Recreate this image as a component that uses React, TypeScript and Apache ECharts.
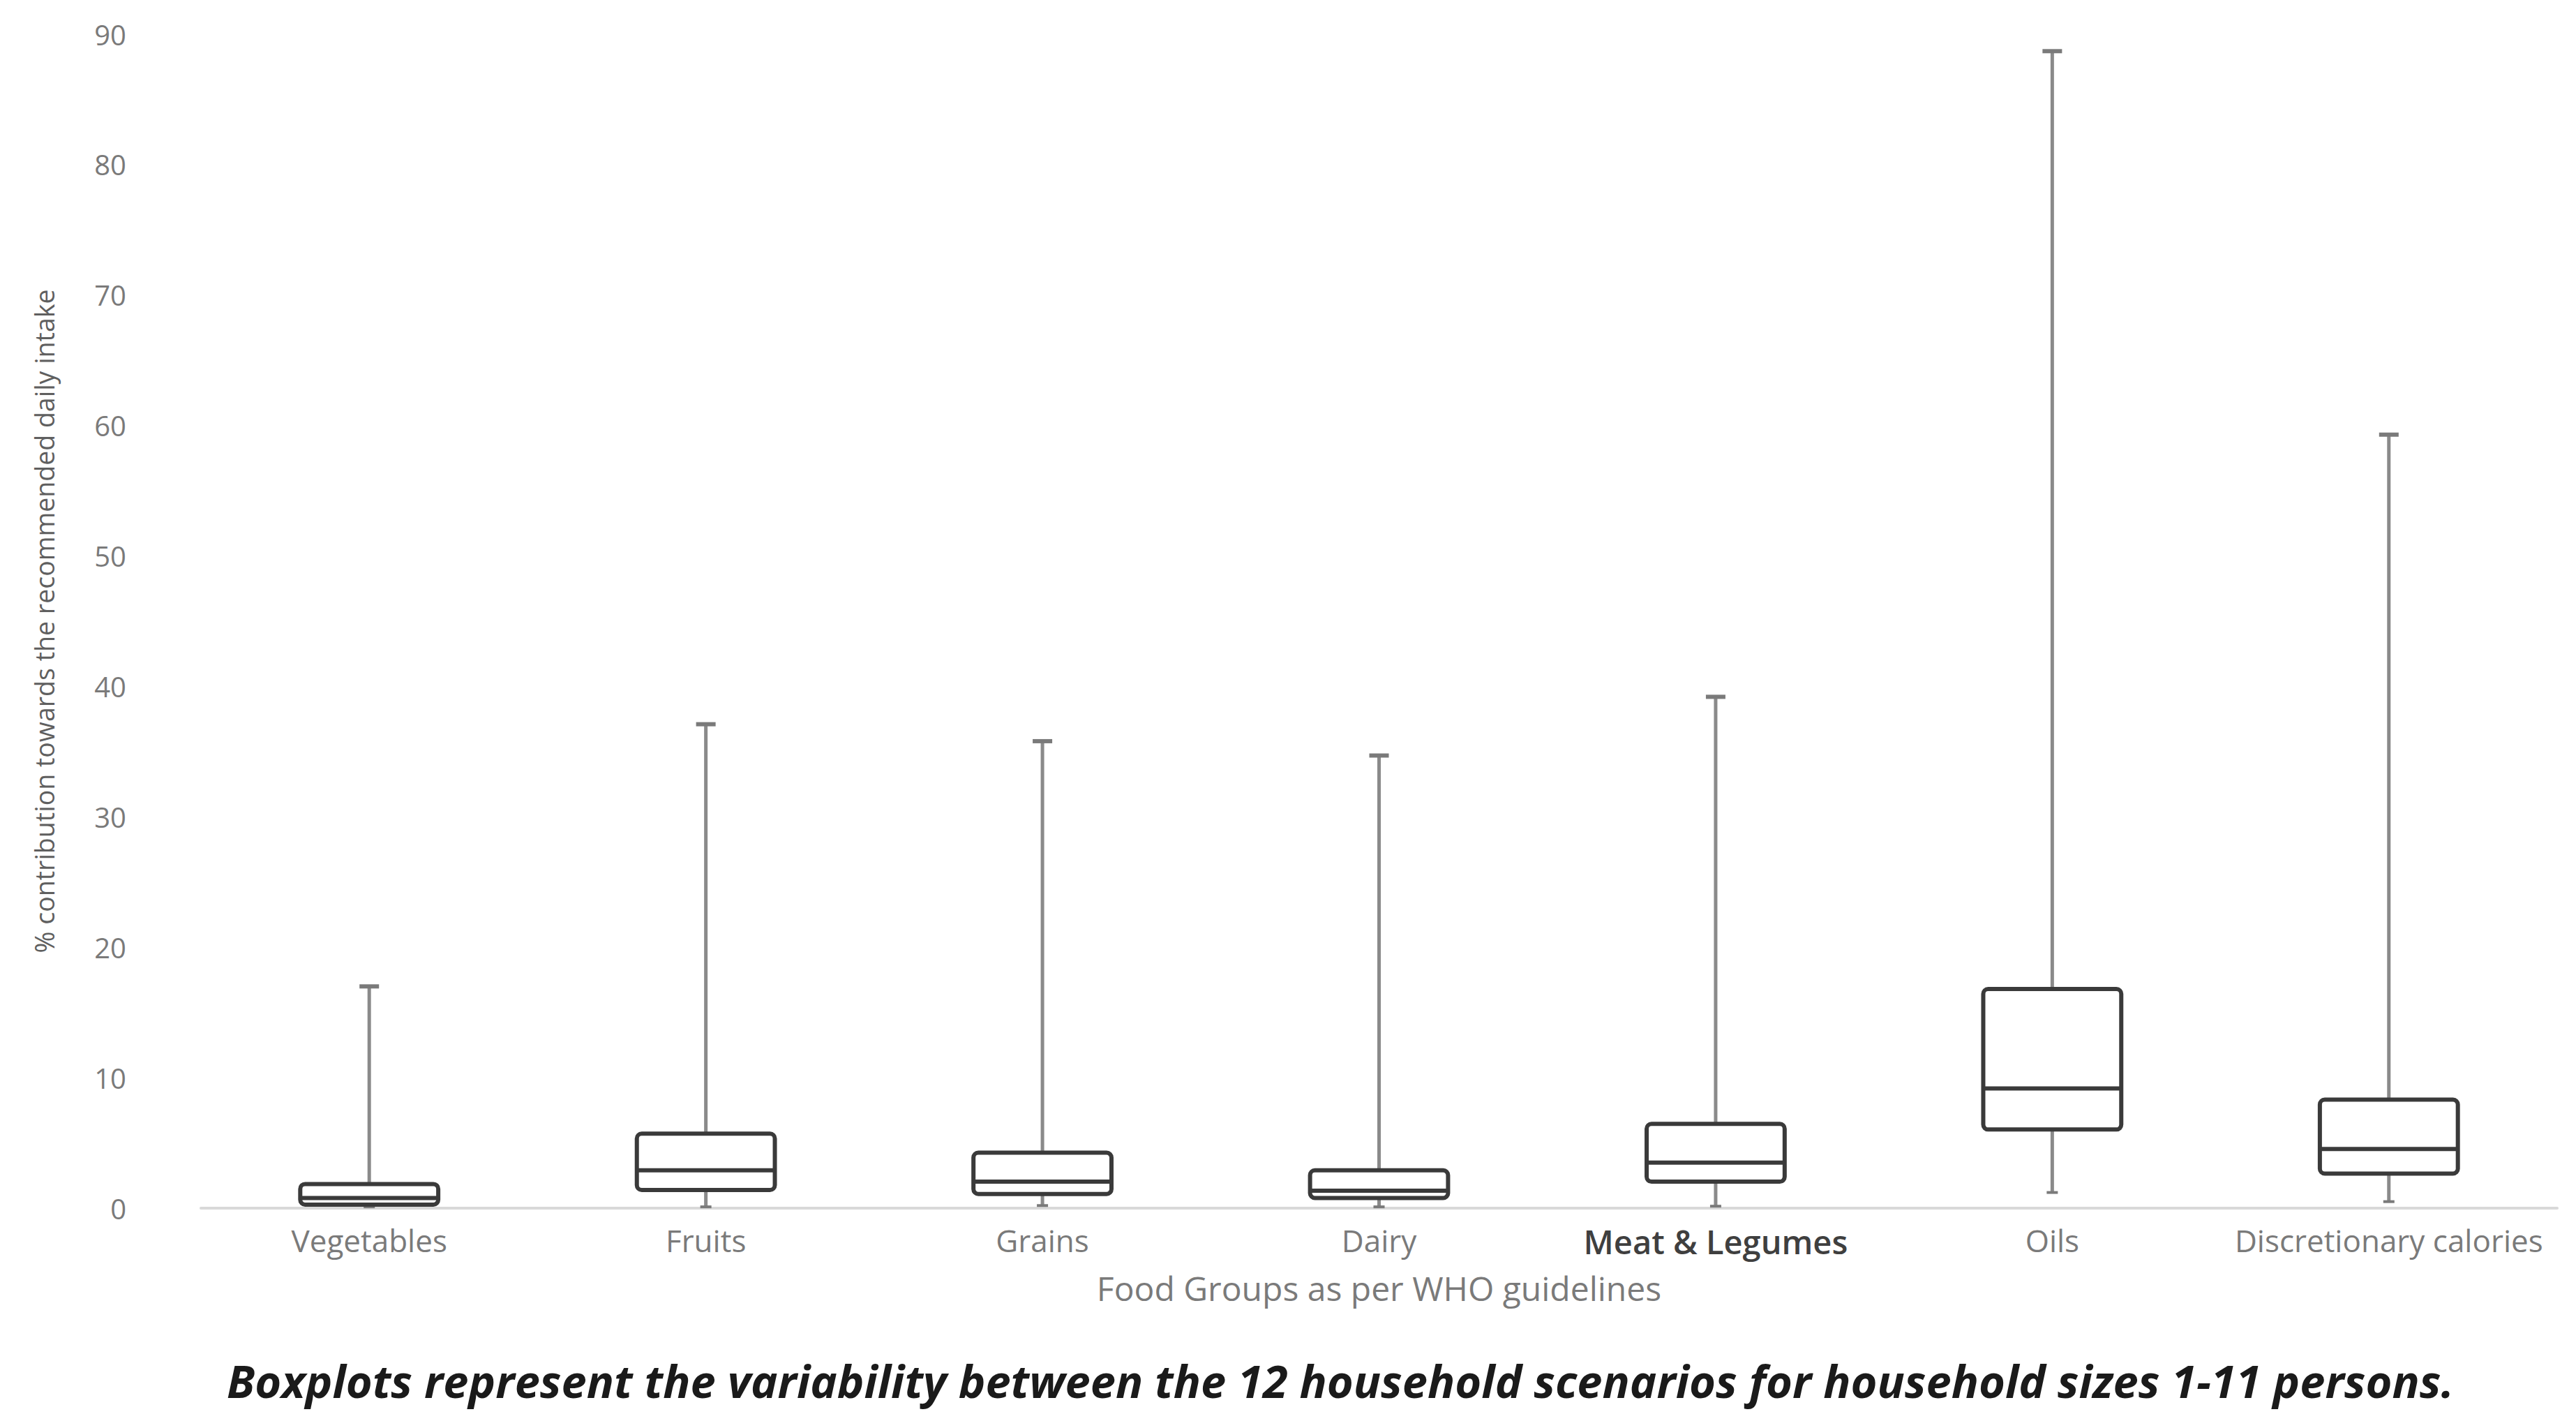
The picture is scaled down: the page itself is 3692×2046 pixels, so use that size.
import React, { useEffect, useRef } from "react";
import * as echarts from "echarts";

const categories = [
  "Vegetables",
  "Fruits",
  "Grains",
  "Dairy",
  "Meat & Legumes",
  "Oils",
  "Discretionary calories",
];
const minValues = [0.1, 0.1, 0.2, 0.1, 0.15, 1.2, 0.5];
const q1Values = [0.27, 1.39, 1.09, 0.78, 2.03, 6.03, 2.65];
const medianValues = [0.78, 2.9, 2.03, 1.34, 3.49, 9.18, 4.53];
const q3Values = [1.85, 5.71, 4.25, 2.9, 6.46, 16.8, 8.32];
const maxValues = [17.0, 37.1, 35.8, 34.7, 39.2, 88.7, 59.3];

const yMin = 0;
const yMax = 90;
const yInterval = 10;

const yAxisTitle = "% contribution towards the recommended daily intake";
const xAxisTitle = "Food Groups as per WHO guidelines";
const caption =
  "Boxplots represent the variability between the 12 household scenarios for household sizes 1-11 persons.";

const FONT = "'Open Sans', 'Noto Sans', sans-serif";

export default function App() {
  const ref = useRef<HTMLDivElement>(null);

  useEffect(() => {
    if (!ref.current) return;
    const chart = echarts.init(ref.current, null, { renderer: "svg" });

    const data = categories.map((_, i) => [
      i,
      minValues[i],
      q1Values[i],
      medianValues[i],
      q3Values[i],
      maxValues[i],
    ]);

    const renderItem = (params: any, api: any) => {
      const idx = api.value(0);
      const pMin = api.coord([idx, api.value(1)]);
      const pQ1 = api.coord([idx, api.value(2)]);
      const pMed = api.coord([idx, api.value(3)]);
      const pQ3 = api.coord([idx, api.value(4)]);
      const pMax = api.coord([idx, api.value(5)]);
      const x = pMed[0];
      const bw = api.size([1, 0])[0] * 0.41;
      const whiskerStyle = { stroke: "#8a8a8a", lineWidth: 5 };
      const boxStroke = "#3a3a3a";
      return {
        type: "group",
        children: [
          {
            type: "line",
            shape: { x1: x, y1: pQ3[1], x2: x, y2: pMax[1] },
            style: whiskerStyle,
          },
          {
            type: "line",
            shape: { x1: x, y1: pQ1[1], x2: x, y2: pMin[1] },
            style: whiskerStyle,
          },
          {
            type: "line",
            shape: { x1: x - 14, y1: pMax[1], x2: x + 14, y2: pMax[1] },
            style: { stroke: "#7a7a7a", lineWidth: 6 },
          },
          {
            type: "line",
            shape: { x1: x - 8, y1: pMin[1], x2: x + 8, y2: pMin[1] },
            style: { stroke: "#7a7a7a", lineWidth: 4 },
          },
          {
            type: "rect",
            shape: {
              x: x - bw / 2,
              y: pQ3[1],
              width: bw,
              height: pQ1[1] - pQ3[1],
              r: 7,
            },
            style: { fill: "#ffffff", stroke: boxStroke, lineWidth: 6 },
          },
          {
            type: "line",
            shape: { x1: x - bw / 2, y1: pMed[1], x2: x + bw / 2, y2: pMed[1] },
            style: { stroke: boxStroke, lineWidth: 6 },
          },
        ],
      };
    };

    chart.setOption({
      animation: false,
      backgroundColor: "#ffffff",
      grid: { left: 288, right: 27, top: 49, bottom: 315, containLabel: false },
      xAxis: {
        type: "category",
        data: categories,
        name: xAxisTitle,
        nameLocation: "middle",
        nameGap: 90,
        nameTextStyle: { fontFamily: FONT, fontSize: 48, color: "#7a7a7a" },
        axisLine: { show: true, lineStyle: { color: "#d9d9d9", width: 4 } },
        axisTick: { show: false },
        axisLabel: {
          interval: 0,
          margin: 24,
          fontFamily: FONT,
          fontSize: 44,
          color: "#7a7a7a",
          formatter: (v: string) => (v === "Meat & Legumes" ? "{m|" + v + "}" : v),
          rich: {
            m: { fontFamily: FONT, fontSize: 47, color: "#3f3f3f", fontWeight: 600 },
          },
        },
        splitLine: { show: false },
      },
      yAxis: {
        type: "value",
        min: yMin,
        max: yMax,
        interval: yInterval,
        name: yAxisTitle,
        nameLocation: "middle",
        nameGap: 206,
        nameRotate: 90,
        nameTextStyle: { fontFamily: FONT, fontSize: 37.5, color: "#5f5f5f" },
        axisLine: { show: false },
        axisTick: { show: false },
        splitLine: { show: false },
        axisLabel: {
          margin: 107,
          fontFamily: FONT,
          fontSize: 40,
          color: "#7a7a7a",
        },
      },
      graphic: [
        {
          type: "text",
          x: 1921,
          y: 1978,
          style: {
            text: caption,
            fontFamily: FONT,
            fontSize: 65,
            fontWeight: "bold",
            fontStyle: "italic",
            fill: "#1a1a1a",
            textAlign: "center",
            textVerticalAlign: "middle",
          },
        },
      ],
      series: [
        {
          type: "custom",
          renderItem,
          data,
          encode: { x: 0, y: [1, 2, 3, 4, 5] },
        },
      ],
    });

    return () => chart.dispose();
  }, []);

  return (
    <div
      ref={ref}
      style={{ position: "fixed", left: 0, top: 0, width: 3692, height: 2046, background: "#fff" }}
    />
  );
}
